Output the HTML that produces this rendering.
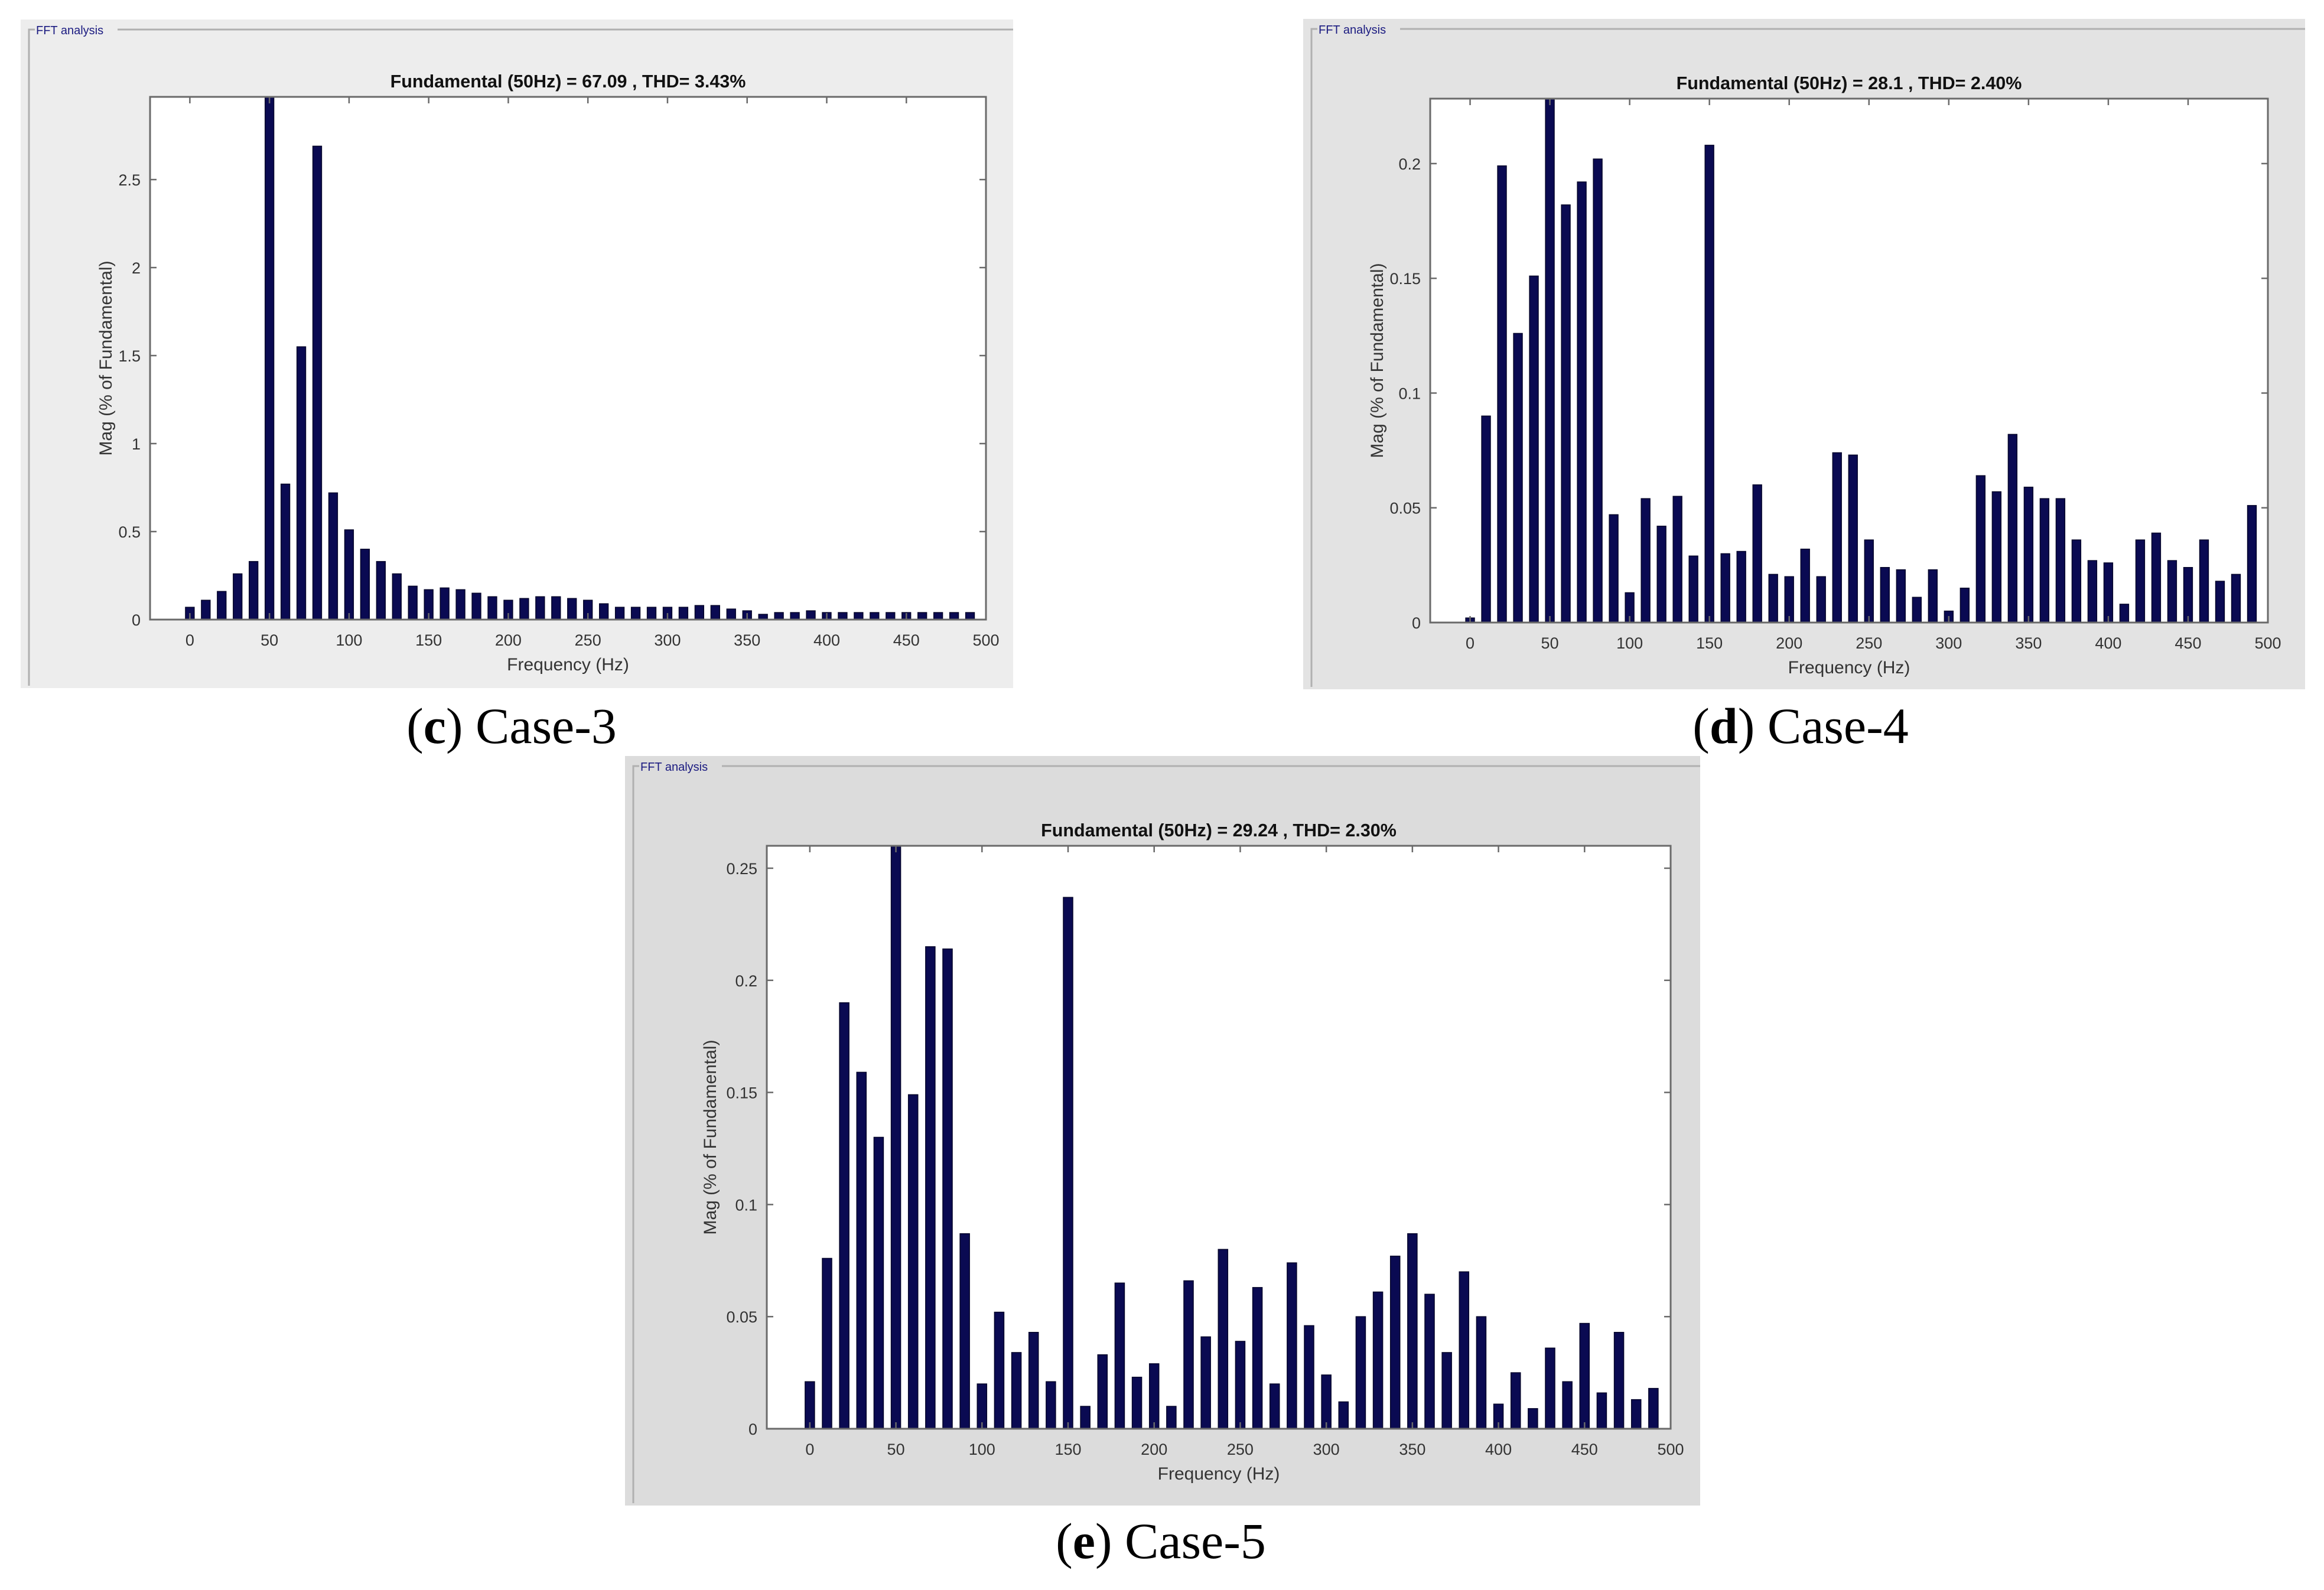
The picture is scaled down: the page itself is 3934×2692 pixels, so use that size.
<!DOCTYPE html>
<html><head><meta charset="utf-8"><style>
html,body{margin:0;padding:0;background:#fff;}
svg{display:block;}
</style></head><body>
<svg id="fig" xmlns="http://www.w3.org/2000/svg" width="3934" height="2692" viewBox="0 0 3934 2692"></svg>
<script>
const freqs = [0,10,20,30,40,50,60,70,80,90,100,110,120,130,140,150,160,170,180,190,200,210,220,230,240,250,260,270,280,290,300,310,320,330,340,350,360,370,380,390,400,410,420,430,440,450,460,470,480,490];
const case3Values = [0.07,0.11,0.16,0.26,0.33,3.2,0.77,1.55,2.69,0.72,0.51,0.40,0.33,0.26,0.19,0.17,0.18,0.17,0.15,0.13,0.11,0.12,0.13,0.13,0.12,0.11,0.09,0.07,0.07,0.07,0.07,0.07,0.08,0.08,0.06,0.05,0.03,0.04,0.04,0.05,0.04,0.04,0.04,0.04,0.04,0.04,0.04,0.04,0.04,0.04];
const case4Values = [0.002,0.09,0.199,0.126,0.151,0.25,0.182,0.192,0.202,0.047,0.013,0.054,0.042,0.055,0.029,0.208,0.030,0.031,0.060,0.021,0.020,0.032,0.020,0.074,0.073,0.036,0.024,0.023,0.011,0.023,0.005,0.015,0.064,0.057,0.082,0.059,0.054,0.054,0.036,0.027,0.026,0.008,0.036,0.039,0.027,0.024,0.036,0.018,0.021,0.051];
const case5Values = [0.021,0.076,0.19,0.159,0.13,0.3,0.149,0.215,0.214,0.087,0.020,0.052,0.034,0.043,0.021,0.237,0.010,0.033,0.065,0.023,0.029,0.010,0.066,0.041,0.080,0.039,0.063,0.020,0.074,0.046,0.024,0.012,0.050,0.061,0.077,0.087,0.060,0.034,0.070,0.050,0.011,0.025,0.009,0.036,0.021,0.047,0.016,0.043,0.013,0.018];
const xTickLabels = ["0","50","100","150","200","250","300","350","400","450","500"];
const xTickValues = [0,50,100,150,200,250,300,350,400,450,500];
const case3YTicks = [0,0.5,1,1.5,2,2.5];
const case3YLabels = ["0","0.5","1","1.5","2","2.5"];
const case4YTicks = [0,0.05,0.1,0.15,0.2];
const case4YLabels = ["0","0.05","0.1","0.15","0.2"];
const case5YTicks = [0,0.05,0.1,0.15,0.2,0.25];
const case5YLabels = ["0","0.05","0.1","0.15","0.2","0.25"];

const NS="http://www.w3.org/2000/svg";
const svg=document.getElementById('fig');
function mk(tag,attrs,parent,text){const e=document.createElementNS(NS,tag);for(const k in attrs)e.setAttribute(k,attrs[k]);if(text!==undefined)e.textContent=text;(parent||svg).appendChild(e);return e;}

const panels=[
 {id:'case3',vals:case3Values,yt:case3YTicks,yl:case3YLabels,ymax:2.97,
  panel:[35,33,1715,1165],bg:'#ededed',plot:[254,164,1669,1049],
  title:'Fundamental (50Hz) = 67.09 , THD= 3.43%',cap:['c',' Case-3'],capX:866,capY:1258,ylx:181},
 {id:'case4',vals:case4Values,yt:case4YTicks,yl:case4YLabels,ymax:0.2283,
  panel:[2206,32,3902,1167],bg:'#e3e3e3',plot:[2421,167,3839,1054],
  title:'Fundamental (50Hz) = 28.1 , THD= 2.40%',cap:['d',' Case-4'],capX:3048,capY:1258,ylx:2333},
 {id:'case5',vals:case5Values,yt:case5YTicks,yl:case5YLabels,ymax:0.26,
  panel:[1058,1280,2878,2549],bg:'#dcdcdc',plot:[1298,1432,2828,2419],
  title:'Fundamental (50Hz) = 29.24 , THD= 2.30%',cap:['e',' Case-5'],capX:1965,capY:2638,ylx:1204}
];

panels.forEach(p=>{
 const g=mk('g',{});
 
 
 const [px0,py0,px1,py1]=p.panel;
 mk('rect',{x:px0,y:py0,width:px1-px0,height:py1-py0,fill:p.bg},g);
 const fx=px0+14,fy=py0+17;
 mk('path',{d:`M${fx+10},${fy} L${fx},${fy} L${fx},${py1-4} M${fx+150},${fy} L${px1},${fy}`,stroke:'#b0b0b0','stroke-width':3,fill:'none'},g);
 const ft=mk('text',{x:fx+12,y:fy+8,'font-family':'Liberation Sans, sans-serif','font-size':20,fill:'#1a1a80'},g,'FFT analysis');
 
 
 const [x0,y0,x1,y1]=p.plot;
 const xs=v=>x0+(v+25)/525*(x1-x0);
 const ys=v=>y1-Math.min(v,p.ymax)/p.ymax*(y1-y0);
 const pr=mk('rect',{x:x0,y:y0,width:x1-x0,height:y1-y0,fill:'#fff'},g);
 
 
 const bw=(xs(10)-xs(0))*0.55;
 freqs.forEach((f,i)=>{
  const v=p.vals[i];
  const r=mk('rect',{x:xs(f)-bw/2,y:ys(v),width:bw,height:y1-ys(v),fill:'#0a0a52',stroke:'#05052a','stroke-width':1.5},g);
  
  
 });
 mk('rect',{x:x0,y:y0,width:x1-x0,height:y1-y0,fill:'none',stroke:'#6a6a6a','stroke-width':3},g);
 const tl=11;
 xTickValues.forEach((t,i)=>{
  const x=xs(t);
  mk('line',{x1:x,y1:y1,x2:x,y2:y1-tl,stroke:'#6a6a6a','stroke-width':2.5},g);
  mk('line',{x1:x,y1:y0,x2:x,y2:y0+tl,stroke:'#6a6a6a','stroke-width':2.5},g);
  const tx=mk('text',{x:x,y:y1+44,'text-anchor':'middle','font-family':'Liberation Sans, sans-serif','font-size':27,fill:'#333'},g,xTickLabels[i]);
  
  
 });
 p.yt.forEach((t,i)=>{
  const y=ys(t);
  mk('line',{x1:x0,y1:y,x2:x0+tl,y2:y,stroke:'#6a6a6a','stroke-width':2.5},g);
  mk('line',{x1:x1,y1:y,x2:x1-tl,y2:y,stroke:'#6a6a6a','stroke-width':2.5},g);
  const ty=mk('text',{x:x0-16,y:y+10,'text-anchor':'end','font-family':'Liberation Sans, sans-serif','font-size':27,fill:'#333'},g,p.yl[i]);
  
  
 });
 const cx=(x0+x1)/2;
 const ti=mk('text',{x:cx,y:y0-16,'text-anchor':'middle','font-family':'Liberation Sans, sans-serif','font-size':30.5,'font-weight':'bold',fill:'#111'},g,p.title);
 
 
 const xl=mk('text',{x:cx,y:y1+86,'text-anchor':'middle','font-family':'Liberation Sans, sans-serif','font-size':30,fill:'#333'},g,'Frequency (Hz)');
 
 
 const cy=(y0+y1)/2;
 const yl=mk('text',{x:p.ylx,y:cy,'text-anchor':'middle','font-family':'Liberation Sans, sans-serif','font-size':30,fill:'#333',transform:`rotate(-90 ${p.ylx} ${cy})`,'dominant-baseline':'middle'},g,'Mag (% of Fundamental)');
 
 
 const cap=mk('text',{x:p.capX,y:p.capY,'text-anchor':'middle','font-family':'Liberation Serif, serif','font-size':86,fill:'#000'});
 
 
 mk('tspan',{},cap,'(');
 mk('tspan',{'font-weight':'bold'},cap,p.cap[0]);
 mk('tspan',{},cap,')'+p.cap[1]);
});
</script>
</body></html>
